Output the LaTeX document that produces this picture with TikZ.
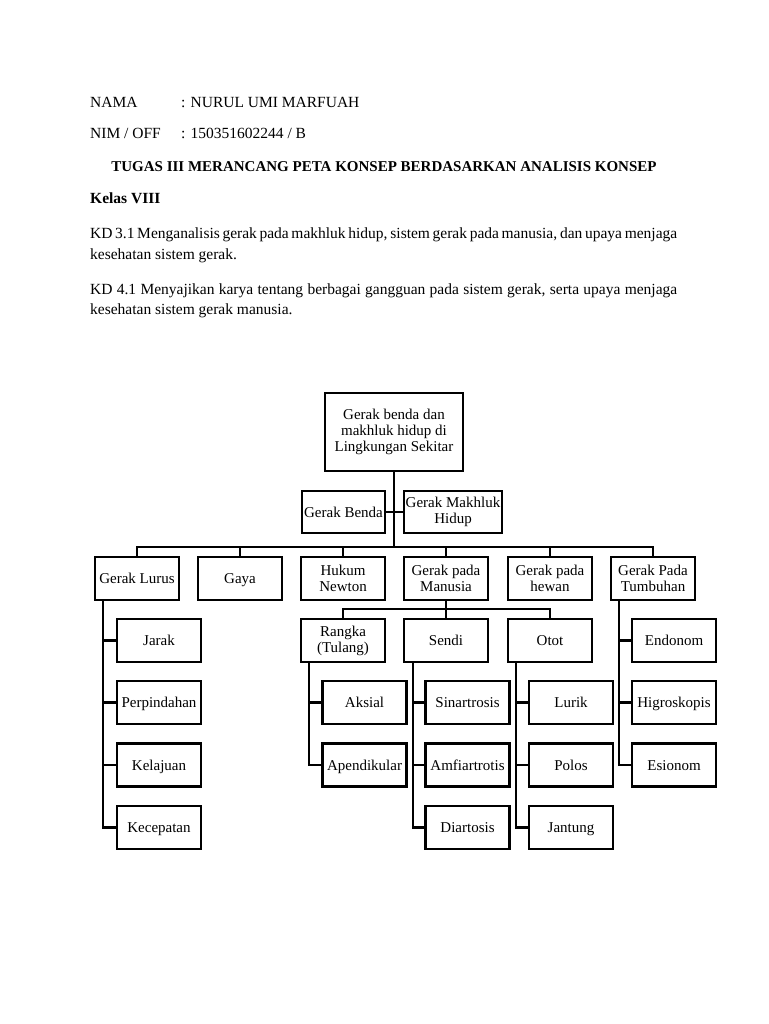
\documentclass[tikz,border=0pt]{standalone}
\usepackage{fontspec}
\setmainfont{Liberation Serif}
\begin{document}
\begin{tikzpicture}[x=1pt,y=1pt]
\tikzset{
  cbox/.style={draw, line width=2.8pt, minimum width=84pt, minimum height=43pt, inner sep=0pt, align=center, font=\fontsize{15}{16}\selectfont},
  sl/.style={text height=10.3pt, text depth=0pt},
  link/.style={line width=2.5pt},
  hdr/.style={anchor=base west, inner sep=0pt, font=\fontsize{15.5}{20}\selectfont},
}
\fill[white] (0,0) rectangle (768,-1024);
\useasboundingbox (0,0) rectangle (768,-1024);

% header
\node[hdr] (nama) at (90,-108) {NAMA};
\node[hdr] (namav) at (181,-108) {: NURUL UMI MARFUAH};
\node[hdr] (nim) at (90,-139) {NIM / OFF};
\node[hdr] (nimv) at (181,-139) {: 150351602244 / B};
\node[hdr, anchor=base, font=\fontsize{15}{20}\selectfont] (title) at (384,-172) {\bfseries TUGAS III MERANCANG PETA KONSEP BERDASARKAN ANALISIS KONSEP};
\node[hdr] (kelas) at (90,-204) {\bfseries Kelas VIII};
\node[hdr] (kd3a) at (90,-239) {\makebox[587pt][s]{KD 3.1 Menganalisis gerak pada makhluk hidup, sistem gerak pada manusia, dan upaya menjaga}};
\node[hdr] (kd3b) at (90,-259) {kesehatan sistem gerak.};
\node[hdr] (kd4a) at (90,-294) {\makebox[587pt][s]{KD 4.1 Menyajikan karya tentang berbagai gangguan pada sistem gerak, serta upaya menjaga}};
\node[hdr] (kd4b) at (90,-314) {kesehatan sistem gerak manusia.};

% diagram
\node[cbox, minimum width=138pt, minimum height=78pt] (top) at (394,-432) {Gerak benda dan\\makhluk hidup di\\Lingkungan Sekitar};
\node[cbox, sl, minimum width=83pt, minimum height=42pt] (gb) at (343.5,-512) {Gerak Benda};
\node[cbox, minimum width=98pt, minimum height=42pt] (gm) at (453,-512) {Gerak Makhluk\\Hidup};

\node[cbox, sl] (gl) at (137,-578.5) {Gerak Lurus};
\node[cbox, sl] (gaya) at (240,-578.5) {Gaya};
\node[cbox] (hn) at (343,-578.5) {Hukum\\Newton};
\node[cbox] (gpm) at (446,-578.5) {Gerak pada\\Manusia};
\node[cbox] (gph) at (550,-578.5) {Gerak pada\\hewan};
\node[cbox] (gpt) at (653,-578.5) {Gerak Pada\\Tumbuhan};

\node[cbox, sl] (jarak) at (159,-640.5) {Jarak};
\node[cbox] (rangka) at (343,-640.5) {Rangka\\(Tulang)};
\node[cbox, sl] (sendi) at (446,-640.5) {Sendi};
\node[cbox, sl] (otot) at (550,-640.5) {Otot};
\node[cbox, sl] (endonom) at (674,-640.5) {Endonom};

\node[cbox, sl] (perp) at (159,-702.5) {Perpindahan};
\node[cbox, sl] (aksial) at (364.5,-702.5) {Aksial};
\node[cbox, sl] (sinar) at (467.5,-702.5) {Sinartrosis};
\node[cbox, sl] (lurik) at (571,-702.5) {Lurik};
\node[cbox, sl] (higro) at (674,-702.5) {Higroskopis};

\node[cbox, sl] (kelaj) at (159,-765) {Kelajuan};
\node[cbox, sl] (apend) at (364.5,-765) {Apendikular};
\node[cbox, sl] (amfi) at (467.5,-765) {Amfiartrotis};
\node[cbox, sl] (polos) at (571,-765) {Polos};
\node[cbox, sl] (esio) at (674,-765) {Esionom};

\node[cbox, sl] (kecep) at (159,-827.5) {Kecepatan};
\node[cbox, sl] (diart) at (467.5,-827.5) {Diartosis};
\node[cbox, sl] (jant) at (571,-827.5) {Jantung};

% helper coordinates
\coordinate (busy) at (0,-547);
\coordinate (suby) at (0,-609);
\coordinate (glx) at (103,0);
\coordinate (rkx) at (309,0);
\coordinate (sdx) at (413,0);
\coordinate (otx) at (516,0);
\coordinate (tbx) at (619,0);

% connectors
\draw[link] (top.south) -- (top.south |- busy);
\draw[link] (gb.east) -- (gm.west);
\draw[link] (gl.north) -- (gl.north |- busy) -- (gpt.north |- busy) -- (gpt.north);
\draw[link] (gaya.north) -- (gaya.north |- busy);
\draw[link] (hn.north) -- (hn.north |- busy);
\draw[link] (gpm.north) -- (gpm.north |- busy);
\draw[link] (gph.north) -- (gph.north |- busy);

\draw[link] (gpm.south) -- (gpm.south |- suby);
\draw[link] (rangka.north) -- (rangka.north |- suby) -- (otot.north |- suby) -- (otot.north);
\draw[link] (sendi.north) -- (sendi.north |- suby);

\draw[link] (gl.south -| glx) |- (kecep.west);
\draw[link] (jarak.west) -- (jarak.west -| glx);
\draw[link] (perp.west) -- (perp.west -| glx);
\draw[link] (kelaj.west) -- (kelaj.west -| glx);

\draw[link] (rangka.south -| rkx) |- (apend.west);
\draw[link] (aksial.west) -- (aksial.west -| rkx);

\draw[link] (sendi.south -| sdx) |- (diart.west);
\draw[link] (sinar.west) -- (sinar.west -| sdx);
\draw[link] (amfi.west) -- (amfi.west -| sdx);

\draw[link] (otot.south -| otx) |- (jant.west);
\draw[link] (lurik.west) -- (lurik.west -| otx);
\draw[link] (polos.west) -- (polos.west -| otx);

\draw[link] (gpt.south -| tbx) |- (esio.west);
\draw[link] (endonom.west) -- (endonom.west -| tbx);
\draw[link] (higro.west) -- (higro.west -| tbx);
\end{tikzpicture}
\end{document}
